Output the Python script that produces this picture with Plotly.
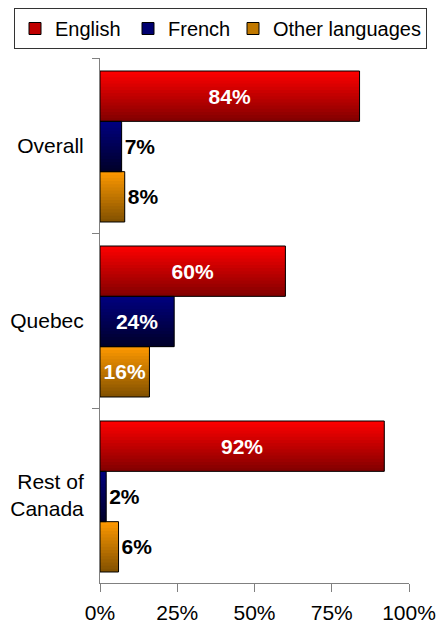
import plotly.graph_objects as go

# ---- data ----
categories = ["Overall", "Quebec", "Rest of<br>Canada"]
series_names = ["English", "French", "Other languages"]
english = [84, 60, 92]
french = [7, 24, 2]
other = [8, 16, 6]
x_ticks = [0, 25, 50, 75, 100]
x_tick_labels = ["0%", "25%", "50%", "75%", "100%"]

# ---- styles ----
values = [english, french, other]
top_colors = [(255, 0, 0), (0, 0, 128), (255, 153, 0)]
bottom_colors = [(128, 0, 0), (0, 0, 40), (128, 80, 0)]
mid_colors = ["#C00000", "#000070", "#C07800"]
legend_widths = [68, 60, 0]
label_pos = [
    ["inside", "inside", "inside"],
    ["outside", "inside", "outside"],
    ["outside", "inside", "outside"],
]
FONT = "Arial, 'Liberation Sans', sans-serif"
BAR_W = 0.2876
START = -0.4257
N_STRIPS = 16
ML, MR, MT, MB = 100, 28, 58, 42
W, H = 437, 625

fig = go.Figure()

# legend entries
for k, name in enumerate(series_names):
    fig.add_trace(go.Bar(
        x=[None], y=[categories[0]], orientation="h", name=name,
        legendwidth=legend_widths[k],
        marker=dict(color=mid_colors[k], line=dict(color="black", width=1)),
        hoverinfo="skip",
    ))

# gradient strips (overlapping to avoid seams)
for k in range(3):
    off0 = START + k * BAR_W
    sw = BAR_W / N_STRIPS
    for i in range(N_STRIPS):
        t = (i + 0.5) / N_STRIPS
        c = tuple(round(top_colors[k][j] + (bottom_colors[k][j] - top_colors[k][j]) * t) for j in range(3))
        w = sw * 2 if i < N_STRIPS - 1 else sw
        fig.add_trace(go.Bar(
            x=values[k], y=categories, orientation="h",
            offset=off0 + i * sw, width=w,
            marker=dict(color="rgb(%d,%d,%d)" % c, line=dict(width=0)),
            showlegend=False, hoverinfo="skip",
        ))

# outlines and labels
for k in range(3):
    fig.add_trace(go.Bar(
        x=values[k], y=categories, orientation="h",
        offset=START + k * BAR_W, width=BAR_W,
        marker=dict(color="rgba(0,0,0,0)", line=dict(color="black", width=1)),
        texttemplate="<b>%{x}%</b>", textposition=label_pos[k],
        insidetextanchor="middle",
        insidetextfont=dict(color="white", size=21, family=FONT),
        outsidetextfont=dict(color="black", size=21, family=FONT),
        cliponaxis=False, showlegend=False, hoverinfo="skip",
    ))

pw = W - ML - MR
ph = H - MT - MB
fig.update_layout(
    width=W, height=H,
    margin=dict(l=ML, r=MR, t=MT, b=MB, autoexpand=False),
    paper_bgcolor="white", plot_bgcolor="white",
    barmode="overlay",
    font=dict(family=FONT, size=21, color="black"),
    uniformtext=dict(mode="show", minsize=21),
    legend=dict(
        orientation="h",
        x=(14 - ML) / pw, y=1 + (MT - 8) / ph, xanchor="left", yanchor="top",
        bordercolor="#333333", borderwidth=1, bgcolor="white",
        font=dict(size=20, family=FONT, color="black"),
        itemclick=False, itemdoubleclick=False,
    ),
    xaxis=dict(
        range=[0, 100], tickvals=x_ticks, ticktext=x_tick_labels,
        showgrid=False, zeroline=False, showline=True, linecolor="#808080",
        ticks="outside", ticklen=8, tickcolor="#808080", ticklabelstandoff=3,
        tickfont=dict(size=21, family=FONT, color="black"),
        fixedrange=True,
    ),
    yaxis=dict(
        type="category", autorange="reversed", range=[2.5, -0.5],
        showgrid=False, zeroline=False, showline=True, linecolor="#808080",
        ticks="outside", ticklen=7, tickcolor="#808080", tickson="boundaries",
        ticklabelstandoff=11,
        tickfont=dict(size=21, family=FONT, color="black"),
        fixedrange=True,
    ),
)

fig.write_html(
    "out.html",
    config={"displayModeBar": False, "staticPlot": True},
    post_script="document.body.style.margin='0';document.body.style.overflow='hidden';",
)
